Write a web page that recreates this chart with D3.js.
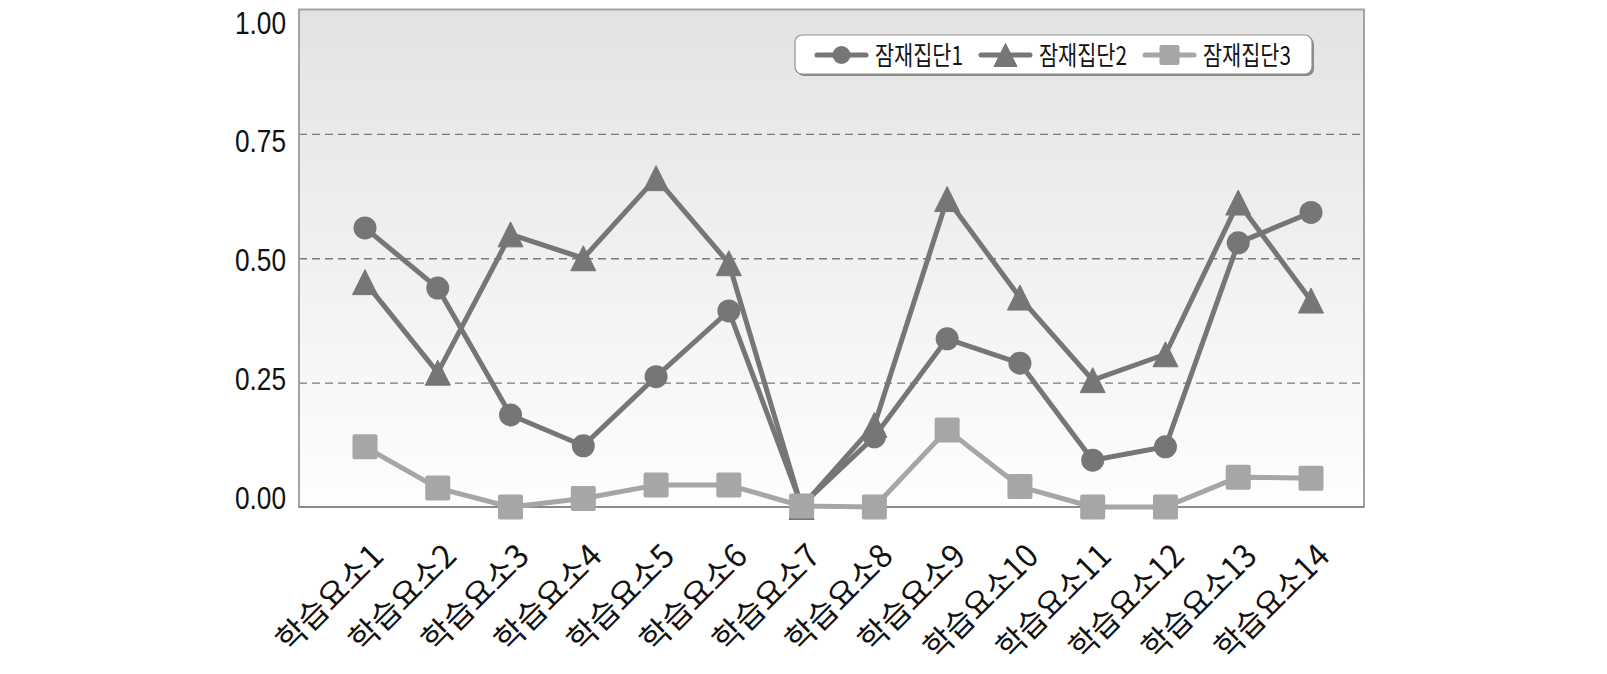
<!DOCTYPE html>
<html>
<head>
<meta charset="utf-8">
<script src="https://cdn.jsdelivr.net/npm/d3@7"></script>
<style>
	body { margin: 0; background: #fff; }
	svg { display: block; }
</style>
</head>
<body>
<div id="chart-area"></div>
<script>

// SVG Size
let width = 1607,
	height = 674;

// data
let categories = ["학습요소1", "학습요소2", "학습요소3", "학습요소4", "학습요소5", "학습요소6", "학습요소7",
	"학습요소8", "학습요소9", "학습요소10", "학습요소11", "학습요소12", "학습요소13", "학습요소14"];

let seriesNames = ["잠재집단1", "잠재집단2", "잠재집단3"];

let group1 = [0.561, 0.440, 0.185, 0.123, 0.262, 0.394, 0.003, 0.141, 0.338, 0.289, 0.094, 0.121, 0.531, 0.592];
let group2 = [0.452, 0.270, 0.548, 0.500, 0.661, 0.490, 0.000, 0.165, 0.619, 0.421, 0.255, 0.307, 0.612, 0.415];
let group3 = [0.121, 0.038, 0.000, 0.017, 0.044, 0.044, 0.002, 0.000, 0.155, 0.041, 0.000, 0.000, 0.060, 0.058];

let yTicks = [0, 0.25, 0.5, 0.75, 1];

drawChart();

function drawChart(){

	// plot area
	let plot = {left: 299, top: 9.5, right: 1364, bottom: 507};

	let svg = d3.select("#chart-area").append("svg")
		.attr("width", width)
		.attr("height", height);

	let series = [
		{name: seriesNames[0], values: group1, color: "#767676", shape: "circle"},
		{name: seriesNames[1], values: group2, color: "#767676", shape: "triangle"},
		{name: seriesNames[2], values: group3, color: "#a6a6a6", shape: "square"}
	];

	// scales
	let x = d3.scalePoint()
		.domain(categories)
		.range([365, 1311]);

	let y = d3.scaleLinear()
		.domain([0, 1])
		.range([plot.bottom, plot.top]);

	// tick labels sit slightly off the gridlines in the original
	let yLabel = d3.scaleLinear()
		.domain([0, 1])
		.range([497, 21.5]);

	// background gradient
	let grad = svg.append("defs").append("linearGradient")
		.attr("id", "bg")
		.attr("x1", 0).attr("y1", 0).attr("x2", 0).attr("y2", 1);
	grad.append("stop").attr("offset", "0%").attr("stop-color", "#e3e3e3");
	grad.append("stop").attr("offset", "100%").attr("stop-color", "#fefefe");

	svg.append("rect")
		.attr("x", plot.left)
		.attr("y", plot.top)
		.attr("width", plot.right - plot.left)
		.attr("height", plot.bottom - plot.top)
		.attr("fill", "url(#bg)");

	// dashed gridlines
	let grid = svg.append("g")
		.attr("class", "grid")
		.attr("transform", `translate(${plot.left},0)`)
		.call(d3.axisLeft(y).tickValues(yTicks.slice(1, 4)).tickSize(-(plot.right - plot.left)).tickFormat(""));
	grid.select(".domain").remove();
	grid.selectAll("line")
		.attr("stroke", "#7a7a7a")
		.attr("stroke-width", 1.3)
		.attr("stroke-dasharray", "8,5");

	// border
	svg.append("rect")
		.attr("x", plot.left)
		.attr("y", plot.top)
		.attr("width", plot.right - plot.left)
		.attr("height", plot.bottom - plot.top)
		.attr("fill", "none")
		.attr("stroke", "#a3a3a3")
		.attr("stroke-width", 2);

	svg.append("line")
		.attr("x1", plot.left).attr("x2", plot.right)
		.attr("y1", y(0)).attr("y2", y(0))
		.attr("stroke", "#8a8a8a")
		.attr("stroke-width", 2);

	// y axis labels (narrow face in the original, squeezed here)
	let yAxisGroup = svg.append("g")
		.attr("class", "y-axis")
		.attr("transform", `translate(${plot.left - 13},0)`)
		.call(d3.axisLeft(yLabel).tickValues(yTicks).tickSize(0).tickPadding(0).tickFormat(d3.format(".2f")));
	yAxisGroup.select(".domain").remove();
	yAxisGroup.selectAll("text")
		.attr("fill", "#111")
		.attr("dy", "0.36em")
		.attr("textLength", 51)
		.attr("lengthAdjust", "spacingAndGlyphs")
		.style("font-family", "'Liberation Sans', Arial, sans-serif")
		.style("font-size", "32px");

	// x axis labels, rotated; two-digit ones are a bit squeezed
	let xAxisGroup = svg.append("g")
		.attr("class", "x-axis")
		.attr("transform", `translate(20,558)`)
		.call(d3.axisBottom(x).tickSize(0).tickPadding(0));
	xAxisGroup.select(".domain").remove();
	xAxisGroup.selectAll("text")
		.attr("fill", "#111")
		.attr("y", 0)
		.attr("dy", 0)
		.attr("text-anchor", "end")
		.attr("transform", "rotate(-45)")
		.attr("textLength", d => d.length > 5 ? 146 : null)
		.attr("lengthAdjust", "spacingAndGlyphs")
		.style("font-family", "'Noto Sans CJK KR', sans-serif")
		.style("font-size", "32px");

	// markers
	function marker(sel, shape, color, s){
		if (shape === "circle") {
			sel.append("circle").attr("r", s / 2).attr("fill", color);
		} else if (shape === "triangle") {
			sel.append("path")
				.attr("d", `M0,${-s / 2} L${s / 2},${s / 2} L${-s / 2},${s / 2} Z`)
				.attr("fill", color)
				.attr("stroke", color)
				.attr("stroke-linejoin", "round")
				.attr("stroke-width", 1);
		} else {
			sel.append("rect")
				.attr("x", -s / 2).attr("y", -s / 2)
				.attr("width", s).attr("height", s)
				.attr("rx", 2)
				.attr("fill", color);
		}
	}

	let line = d3.line()
		.x((d, i) => x(categories[i]))
		.y(d => y(d));

	series.forEach(s => {
		let g = svg.append("g").attr("class", "series");

		g.append("path")
			.datum(s.values)
			.attr("d", line)
			.attr("fill", "none")
			.attr("stroke", s.color)
			.attr("stroke-width", 5)
			.attr("stroke-linejoin", "round");

		g.selectAll(".pt").data(s.values).enter().append("g")
			.attr("class", "pt")
			.attr("transform", (d, i) => `translate(${x(categories[i])},${y(d)})`)
			.each(function(){
				marker(d3.select(this), s.shape, s.color, s.shape === "circle" ? 23 : 25);
			});
	});

	// legend
	let legend = svg.append("g").attr("class", "legend");

	legend.append("rect")
		.attr("x", 797).attr("y", 37)
		.attr("width", 517).attr("height", 39)
		.attr("rx", 7)
		.attr("fill", "#8a8a8a");

	legend.append("rect")
		.attr("x", 795).attr("y", 35)
		.attr("width", 517).attr("height", 39)
		.attr("rx", 7)
		.attr("fill", "#fff")
		.attr("stroke", "#8f8f8f")
		.attr("stroke-width", 1.2);

	let items = legend.selectAll(".item").data(series).enter().append("g")
		.attr("class", "item")
		.attr("transform", (d, i) => `translate(${817 + i * 164},55)`);

	items.append("line")
		.attr("x1", 0).attr("x2", 49)
		.attr("stroke", d => d.color)
		.attr("stroke-width", 5)
		.attr("stroke-linecap", "round");

	items.each(function(d){
		let g = d3.select(this).append("g").attr("transform", "translate(24.5,0)");
		marker(g, d.shape, d.color, d.shape === "circle" ? 18 : (d.shape === "triangle" ? 23 : 20));
	});

	items.append("text")
		.attr("x", 58)
		.attr("y", 10)
		.attr("textLength", 88)
		.attr("lengthAdjust", "spacingAndGlyphs")
		.attr("fill", "#111")
		.style("font-family", "'Noto Sans CJK KR', sans-serif")
		.style("font-size", "26px")
		.text(d => d.name);
}

</script>
</body>
</html>
